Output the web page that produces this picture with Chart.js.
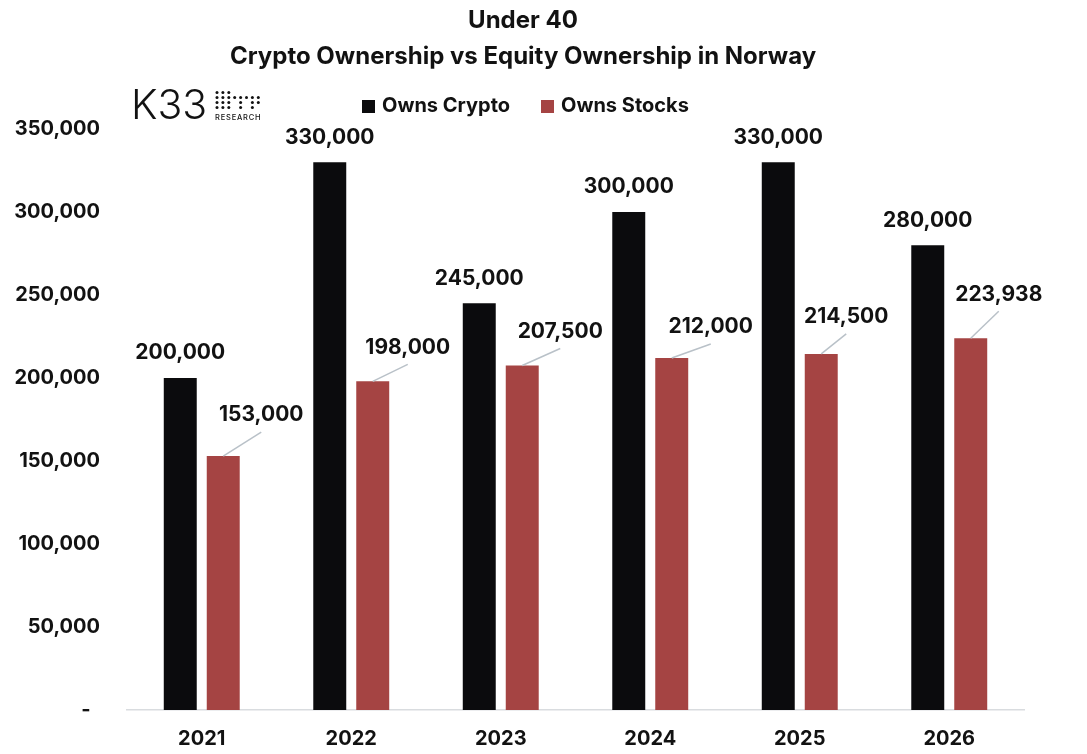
<!DOCTYPE html>
<html>
<head>
<meta charset="utf-8">
<title>Under 40 - Crypto vs Equity Ownership in Norway</title>
<script src="https://cdn.jsdelivr.net/npm/chart.js@4.4.1/dist/chart.umd.min.js"></script>
<style>
  html, body { margin: 0; padding: 0; background: #fff; }
  canvas { display: block; }
</style>
</head>
<body>
<canvas id="ownershipChart" width="1087" height="754"></canvas>
<script>
// Survey estimates, people under 40
const years = ['2021', '2022', '2023', '2024', '2025', '2026'];
const ownsCrypto = [200000, 330000, 245000, 300000, 330000, 280000];
const ownsStocks = [153000, 198000, 207500, 212000, 214500, 223938];
const yTicks = [0, 50000, 100000, 150000, 200000, 250000, 300000, 350000];

const CRYPTO_COLOR = '#0b0b0d';
const STOCKS_COLOR = '#a54443';
const TEXT_COLOR = '#121212';
const FONT = 'Inter, "Open Sans", sans-serif';

// where the stock labels sit relative to the top of their bar (with a leader line)
const stockLabelOffsets = [[38, -41], [35, -34], [38, -34], [39, -31], [25, -37], [28, -44]];

const fmt = v => v === 0 ? '-  ' : v.toLocaleString('en-US');

// title, K33 logo and legend drawn straight onto the canvas
const headerPlugin = {
  id: 'header',
  afterDraw(chart) {
    const ctx = chart.ctx;
    ctx.save();
    ctx.fillStyle = TEXT_COLOR;
    ctx.textAlign = 'center';
    ctx.textBaseline = 'middle';
    ctx.font = '700 24px ' + FONT;
    ctx.fillText('Under 40', 523, 21);
    ctx.fillText('Crypto Ownership vs Equity Ownership in Norway', 523, 57);

    // logo
    ctx.textAlign = 'left';
    ctx.textBaseline = 'alphabetic';
    ctx.font = '300 41px ' + FONT;
    ctx.fillText('K33', 131, 119);
    const dots = [
      [1, 1, 1, 0, 0, 0, 0, 0],
      [1, 1, 1, 1, 1, 1, 1, 1],
      [1, 1, 1, 0, 1, 0, 1, 1],
      [1, 1, 1, 0, 1, 0, 1, 0]
    ];
    dots.forEach((row, r) => row.forEach((on, c) => {
      if (!on) return;
      ctx.beginPath();
      ctx.arc(217 + c * 5.9, 92.5 + r * 5, 1.5, 0, Math.PI * 2);
      ctx.fill();
    }));
    ctx.font = '500 7.5px ' + FONT;
    ctx.letterSpacing = '0.8px';
    ctx.fillText('RESEARCH', 215, 119.5);
    ctx.letterSpacing = '0px';

    // legend
    ctx.font = '700 20px ' + FONT;
    ctx.textBaseline = 'middle';
    ctx.fillStyle = CRYPTO_COLOR;
    ctx.fillRect(362, 100, 13, 13);
    ctx.fillStyle = TEXT_COLOR;
    ctx.fillText('Owns Crypto', 382, 106);
    ctx.fillStyle = STOCKS_COLOR;
    ctx.fillRect(541, 100, 13, 13);
    ctx.fillStyle = TEXT_COLOR;
    ctx.fillText('Owns Stocks', 561, 106);
    ctx.restore();
  }
};

// value labels: crypto above the bar, stocks offset with a leader line
const valueLabels = {
  id: 'valueLabels',
  afterDatasetsDraw(chart) {
    const ctx = chart.ctx;
    ctx.save();
    ctx.font = '700 21px ' + FONT;
    ctx.fillStyle = TEXT_COLOR;
    ctx.textAlign = 'center';
    ctx.textBaseline = 'middle';

    chart.getDatasetMeta(0).data.forEach((bar, i) => {
      ctx.fillText(fmt(ownsCrypto[i]), bar.x, bar.y - 25);
    });

    chart.getDatasetMeta(1).data.forEach((bar, i) => {
      const [dx, dy] = stockLabelOffsets[i];
      const lx = bar.x + dx, ly = bar.y + dy;
      ctx.strokeStyle = '#b9c1c8';
      ctx.lineWidth = 1.5;
      ctx.beginPath();
      ctx.moveTo(bar.x, bar.y);
      ctx.lineTo(lx, ly + 17);
      ctx.stroke();
      ctx.fillText(fmt(ownsStocks[i]), lx, ly);
    });
    ctx.restore();
  }
};

new Chart(document.getElementById('ownershipChart'), {
  type: 'bar',
  data: {
    labels: years,
    datasets: [
      { label: 'Owns Crypto', data: ownsCrypto, backgroundColor: CRYPTO_COLOR },
      { label: 'Owns Stocks', data: ownsStocks, backgroundColor: STOCKS_COLOR }
    ]
  },
  options: {
    responsive: false,
    animation: false,
    categoryPercentage: 0.575,
    barPercentage: 0.767,
    layout: { padding: { top: 129, right: 63, left: 0, bottom: 0 } },
    plugins: {
      legend: { display: false },
      title: { display: false },
      tooltip: { enabled: false }
    },
    scales: {
      x: {
        grid: { display: false, drawTicks: false },
        border: { color: '#d9dcdf', width: 1.5 },
        ticks: { color: TEXT_COLOR, font: { family: FONT, size: 20, weight: '700' }, padding: 17 },
        afterFit: s => { s.height = 44; }
      },
      y: {
        min: 0,
        max: 350000,
        grid: { display: false, drawTicks: false },
        border: { display: false },
        afterBuildTicks: s => { s.ticks = yTicks.map(v => ({ value: v })); },
        ticks: {
          color: TEXT_COLOR,
          font: { family: FONT, size: 20, weight: '700' },
          padding: 27,
          callback: v => fmt(v)
        },
        afterFit: s => { s.width = 127; }
      }
    }
  },
  plugins: [headerPlugin, valueLabels]
});
</script>
</body>
</html>
